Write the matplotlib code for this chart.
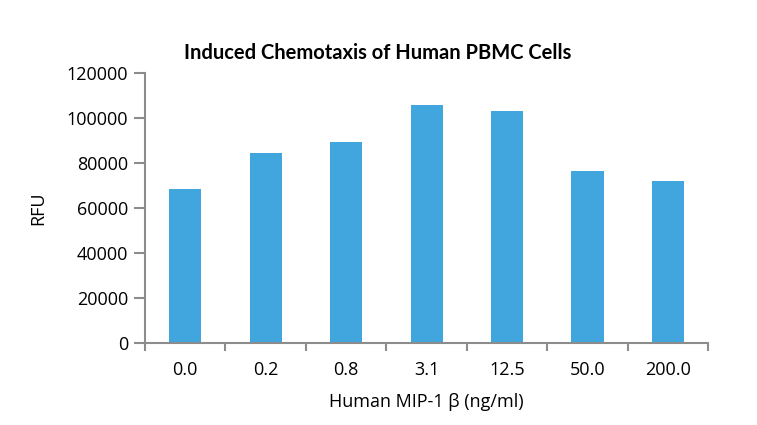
import matplotlib.pyplot as plt

concentrations = ["0.0", "0.2", "0.8", "3.1", "12.5", "50.0", "200.0"]
rfu = [68500, 84700, 89600, 105900, 103200, 76600, 72100]
yticks = [0, 20000, 40000, 60000, 80000, 100000, 120000]


def main():
    plt.rcParams["font.family"] = ["Open Sans", "DejaVu Sans"]
    fig = plt.figure(figsize=(7.57, 4.25), dpi=100)
    ax = fig.add_axes([145 / 757, 1 - 343.3 / 425, 563.3 / 757, 270 / 425])

    x = list(range(len(concentrations)))
    ax.bar(x, rfu, width=0.4, color="#41a6dd")

    ax.set_xlim(-0.5, len(concentrations) - 0.5)
    ax.set_ylim(0, 120000)
    ax.set_yticks(yticks)
    ax.set_yticklabels([str(v) for v in yticks], fontsize=13)
    ax.set_xticks(x)
    ax.set_xticklabels(concentrations, fontsize=13)
    ax.set_xticks([i - 0.5 for i in range(len(concentrations) + 1)], minor=True)

    ax.tick_params(axis="x", which="major", length=0, pad=13)
    ax.tick_params(axis="x", which="minor", length=6, width=1.5, color="#8c8c8c")
    ax.tick_params(axis="y", length=8, width=1.5, color="#8c8c8c", pad=4)

    for side in ["top", "right"]:
        ax.spines[side].set_visible(False)
    for side in ["left", "bottom"]:
        ax.spines[side].set_color("#8c8c8c")
        ax.spines[side].set_linewidth(1.5)

    ax.set_xlabel("Human MIP-1 β (ng/ml)", fontsize=13, labelpad=10)
    ax.set_ylabel("RFU", fontsize=13, labelpad=14)
    fig.text(378 / 757, 1 - 53 / 425, "Induced Chemotaxis of Human PBMC Cells",
             ha="center", va="center", fontsize=14.5, fontweight="bold",
             family=["Lato", "DejaVu Sans"])

    fig.savefig("out.png", dpi=100)


if __name__ == "__main__":
    main()
